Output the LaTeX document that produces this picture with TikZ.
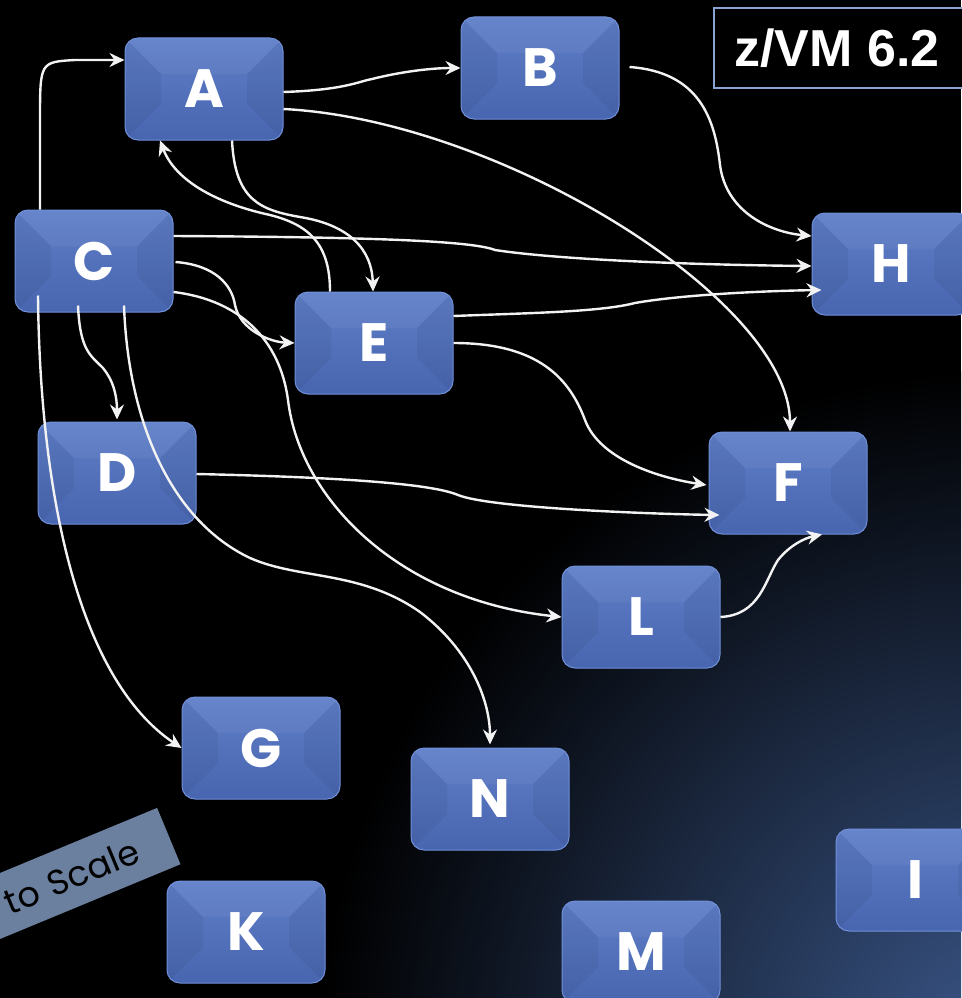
\documentclass[tikz,border=0pt]{standalone}
\usepackage{fontspec}
\usetikzlibrary{arrows.meta,calc}
\newfontfamily\lettfont{Poppins}
\newfontfamily\zvmfont{Liberation Sans}
\definecolor{boxtop}{HTML}{5F7FC8}
\definecolor{boxbot}{HTML}{4865AF}
\definecolor{boxedge}{HTML}{7090DA}
\definecolor{linkc}{HTML}{F2F2F2}
\definecolor{zvmborder}{HTML}{8CA4D4}
\definecolor{scalefill}{HTML}{6B7F9E}
\definecolor{bgblue}{HTML}{3A5688}
\tikzset{
  box/.style={rounded corners=13pt, minimum width=158pt, minimum height=102pt, inner sep=0pt,
    top color=boxtop, bottom color=boxbot, draw=boxedge, line width=1pt,
    text=white, font=\lettfont\bfseries\fontsize{54}{58}\selectfont,
    path picture={
      \fill[sharp corners,black,opacity=0.05] (path picture bounding box.north west) -- ++(36pt,-36pt)
        -- ([shift={(36pt,36pt)}]path picture bounding box.south west) -- (path picture bounding box.south west) -- cycle;
      \fill[sharp corners,black,opacity=0.05] (path picture bounding box.north east) -- ++(-36pt,-36pt)
        -- ([shift={(-36pt,36pt)}]path picture bounding box.south east) -- (path picture bounding box.south east) -- cycle;
      \fill[sharp corners,white,opacity=0.05] (path picture bounding box.north west) -- ++(36pt,-36pt)
        -- ([shift={(-36pt,-36pt)}]path picture bounding box.north east) -- (path picture bounding box.north east) -- cycle;
    }},
  link/.style={draw=linkc, line width=2.4pt, -{Stealth[length=15pt,width=14pt,inset=5pt]}},
  zvmbox/.style={draw=zvmborder, fill=black, line width=2pt, minimum width=262pt, minimum height=80pt, inner sep=0pt},
  zvmtext/.style={text=white, font=\zvmfont\bfseries\fontsize{52}{56}\selectfont, inner sep=0pt},
  scalebox/.style={fill=scalefill, text=black, font=\lettfont\fontsize{35}{40}\selectfont,
    minimum height=61pt, text width=260pt, align=right, inner xsep=34pt, inner ysep=0pt}
}
\begin{document}
\begin{tikzpicture}[x=1pt,y=-1pt]
\useasboundingbox (0,0) rectangle (961,998);
\begin{scope}
  \clip (0,0) rectangle (961,998);
  \fill[black] (0,0) rectangle (961,998);
  \shade[inner color=bgblue, outer color=black] (1000,1050) circle (680);
\end{scope}

% nodes
\node[box] (A) at (204,89) {A};
\node[box] (B) at (540,68) {B};
\node[box] (C) at (94,261) {C};
\node[box] (E) at (374,343) {E};
\node[box] (H) at (891,264) {H};
\node[box] (D) at (117,473) {D};
\node[box] (F) at (788,483) {F};
\node[box] (L) at (641,617) {L};
\node[box] (G) at (261,748) {G};
\node[box] (N) at (490,799) {N};
\node[box] (I) at (915,880) {I};
\node[box] (K) at (246,932) {K};
\node[box] (M) at (641,952) {M};

% z/VM label
\node[zvmbox, anchor=north west] (zvm) at (713,7) {};
\node[zvmtext] (zvmlabel) at (837,48) {z/VM 6.2};

% not to scale tag
\node[scalebox, rotate=22.5, anchor=east] (scaletag) at (169,836) {to Scale};

% connectors
\draw[link] ([xshift=-54pt]C.north) -- (40,120) .. controls (40,62) .. (75,60) -- ([yshift=29pt]A.west);
\draw[link] ([yshift=-3pt]A.east) .. controls (345,90) and (360,81) .. (372,79) .. controls (400,72) and (430,68) .. (B.west);
\draw[link] ([yshift=-20pt]A.east) .. controls (500,120) and (790,300) .. ([xshift=2pt]F.north);
\draw[link] ([xshift=28pt]A.south) .. controls (235,200) and (260,210) .. (300,217) .. controls (350,225) and (372,250) .. ([xshift=-1pt]E.north);
\draw[link] ([xshift=-44pt]E.north) .. controls (330,245) and (310,225) .. (270,215) .. controls (215,203) and (175,180) .. ([xshift=-44pt]A.south);
\draw[link] ([xshift=10pt,yshift=1pt]B.east) .. controls (700,72) and (715,120) .. (720,165) .. controls (726,212) and (770,232) .. ([yshift=28pt]H.west);
\draw[link] ([yshift=25pt]C.east) .. controls (350,237) and (470,240) .. (495,250) .. controls (560,260) and (700,265) .. ([yshift=-2pt]H.west);
\draw[link] ([yshift=27pt]E.east) .. controls (530,313) and (600,312) .. (635,303) .. controls (680,295) and (760,291) .. ([xshift=10pt,yshift=-26pt]H.west);
\draw[link] ([xshift=2pt,yshift=-1pt]C.east) .. controls (215,265) and (232,285) .. (235,305) .. controls (240,330) and (270,342) .. (E.west);
\draw[link] ([yshift=-31pt]C.east) .. controls (240,300) and (280,340) .. (288,400) .. controls (300,500) and (400,600) .. (L.west);
\draw[link] ([xshift=-16pt,yshift=7pt]C.south) .. controls (80,350) and (90,355) .. (103,368) .. controls (113,380) and (117,395) .. ([yshift=2pt]D.north);
\draw[link] ([xshift=30pt,yshift=7pt]C.south) .. controls (128,420) and (170,520) .. (250,558) .. controls (300,580) and (360,570) .. (420,612) .. controls (470,650) and (490,700) .. ([yshift=3pt]N.north);
\draw[link] ([xshift=-56pt,yshift=17pt]C.south) .. controls (40,500) and (80,680) .. (G.west);
\draw[link] ([yshift=-1pt]D.east) .. controls (330,477) and (430,483) .. (458,495) .. controls (490,508) and (650,514) .. ([xshift=11pt,yshift=-32pt]F.west);
\draw[link] (E.east) .. controls (540,343) and (570,380) .. (585,420) .. controls (600,460) and (660,478) .. ([xshift=-2pt,yshift=-2pt]F.west);
\draw[link] (L.east) .. controls (760,615) and (765,580) .. (778,560) .. controls (790,545) and (805,538) .. ([xshift=34pt]F.south);
\end{tikzpicture}
\end{document}
